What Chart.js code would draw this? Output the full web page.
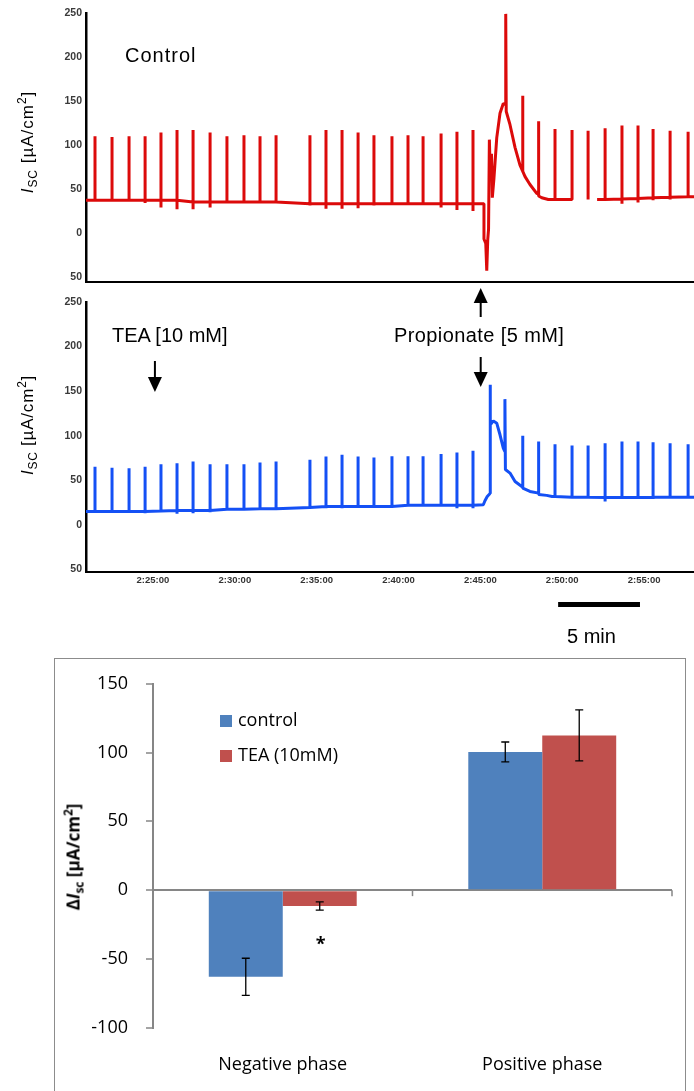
<!DOCTYPE html>
<html>
<head>
<meta charset="utf-8">
<title>Isc recordings and ΔIsc summary</title>
<script src="https://cdn.jsdelivr.net/npm/chart.js@4.4.1/dist/chart.umd.min.js"></script>
<style>
  html, body { margin:0; padding:0; background:#fff; }
  body { position:relative; width:694px; height:1091px; overflow:hidden;
         font-family:"Liberation Sans", Arial, sans-serif; color:#000; }
  canvas { position:absolute; left:0; }
  .txt { position:absolute; white-space:nowrap; line-height:20px; }
  .vtitle { position:absolute; white-space:nowrap; line-height:1;
            transform:translate(-50%,-50%) rotate(-90deg); }
  .vtitle sub, .vtitle sup { font-size:70%; line-height:0; }
  .frame { position:absolute; left:54px; top:658px; width:630px; height:460px;
           border:1px solid #8c8c8c; }
</style>
</head>
<body>
<div class="frame"></div>
<canvas id="controlTrace" width="694" height="292" style="top:0"></canvas>
<canvas id="teaTrace" width="694" height="362" style="top:288px"></canvas>
<canvas id="summary" width="694" height="436" style="top:655px"></canvas>

<div class="txt" style="left:125px;top:45px;font-size:20px;letter-spacing:1px">Control</div>
<div class="txt" style="left:112px;top:325px;font-size:20px">TEA [10 mM]</div>
<div class="txt" style="left:394px;top:325px;font-size:20px;letter-spacing:0.4px">Propionate [5 mM]</div>
<div class="txt" style="left:567px;top:626px;font-size:20px">5 min</div>
<div class="vtitle" style="left:27px;top:142px;font-size:17px;letter-spacing:1px"><i>I</i><sub>SC</sub> [µA/cm<sup>2</sup>]</div>
<div class="vtitle" style="left:27px;top:425px;font-size:17px;letter-spacing:0.8px"><i>I</i><sub>SC</sub> [µA/cm<sup>2</sup>]</div>
<div class="vtitle" style="left:73px;top:857px;font-size:17px;font-family:'Open Sans';font-weight:bold">Δ<i>I</i><sub>sc</sub> [µA/cm<sup>2</sup>]</div>

<script>
// ---------- time axis: minutes after 2:00:00 ----------
const timeMin = 20.91;
const timeMax = 58.05;
const timeTicks = [25, 30, 35, 40, 45, 50, 55];
const timeTickLabels = ['2:25:00', '2:30:00', '2:35:00', '2:40:00', '2:45:00', '2:50:00', '2:55:00'];

// ---------- current axis of the recordings (µA/cm²) ----------
const traceTicks = [-50, 0, 50, 100, 150, 200, 250];
const traceTickLabels = ['50', '0', '50', '100', '150', '200', '250'];

// ---------- additions ----------
const teaAddedAt = 25.12;
const propionateAddedAt = 45.02;
const scaleBarStart = 49.75;
const scaleBarMinutes = 5;

// ---------- voltage test pulses (minutes) ----------
const pulseTimesPre = [21.46, 22.50, 23.54, 24.52, 25.49, 26.47, 27.45, 28.49, 29.52, 30.56, 31.54, 32.52,
                       34.59, 35.57, 36.55, 37.53, 38.50, 39.60, 40.58, 41.50, 42.60, 43.57, 44.55];
const pulseTimesPost = [49.56, 50.60, 51.58, 52.62, 53.65, 54.63, 55.55, 56.59, 57.69];

// ---------- control recording ----------
const controlBasePre = [37, 37, 37, 37, 37, 37, 35, 35, 35, 35, 35, 35, 33, 33, 33, 33, 33, 33, 33, 33, 33, 33, 33];
const controlTopPre  = [110, 109, 110, 110, 114, 117, 117, 114, 110, 111, 110, 111, 111, 117, 117, 114, 111, 110, 111, 110, 113, 115, 117];
const controlDipPre  = [36, 36, 36, 34, 29, 27, 27, 29, 34, 35, 35, 35, 31, 27.5, 27.5, 28, 31, 32, 32, 32, 29, 26, 25];
const controlResponseTimes  = [45.22, 45.22, 45.33, 45.39, 45.45, 45.50, 45.55, 45.61, 45.68, 45.73,
                               45.83, 46.00, 46.20, 46.40, 46.53, 46.55, 46.58, 46.81, 47.12, 47.42,
                               47.59, 47.59, 47.59, 47.73, 48.03, 48.44, 48.56, 48.56, 48.56, 48.75, 49.15];
const controlResponseValues = [33, -7, -12, -43, -8, 4, 106, 64, 90, 40,
                               62, 108, 136, 147, 146, 249, 138, 123, 97, 77,
                               70, 156, 70, 64, 55, 45, 44, 127, 42, 40, 38];
const controlBasePost = [38, 38, 38, 38, 38.5, 39, 40, 40.5, 41];
const controlTopPost  = [118, 117, 116, 119, 122, 122, 118, 116, 115];
const controlDipPost  = [38, 38, 38, 37, 33, 34.5, 37, 38, 41];
const controlGapTimes = [51.1, 51.9];
const controlRestartTimes = [52.13];
const controlRestartValues = [38];

// ---------- TEA recording ----------
const teaBasePre = [15, 15, 15, 15, 15.5, 16, 16, 16, 17.5, 17.5, 18, 18, 19.5, 20.5, 20.5, 20.5, 20.5, 20.5, 22, 22, 22, 22, 22];
const teaTopPre  = [65, 64, 63.5, 65, 68, 69, 71, 68, 68, 68, 70, 71, 73, 76.5, 78.5, 76.5, 75.5, 77, 77, 77, 79.5, 81, 83];
const teaDipPre  = [14, 14, 13.5, 13, 14, 12.5, 13, 14, 16, 16, 17, 17, 18, 18.5, 18.5, 19, 19, 19, 20.5, 20.5, 20.5, 18.5, 18.5];
const teaResponseTimes  = [45.18, 45.28, 45.42, 45.59, 45.59, 45.62, 45.79, 46.00, 46.20, 46.40,
                           46.50, 46.50, 46.53, 46.81, 47.12, 47.53, 47.59, 47.59, 47.59, 48.03,
                           48.56, 48.56, 48.56, 49.05, 49.38];
const teaResponseValues = [22.4, 27, 31.7, 35, 157, 112, 116.6, 114, 101, 86,
                           82, 141, 62, 58, 48.5, 43, 42, 100, 41, 37.4,
                           35.5, 93.4, 34, 33, 31.7];
const teaBasePost = [31.7, 31, 31, 30.6, 30.6, 30.6, 31, 31, 31];
const teaTopPost  = [90.4, 89, 89, 91.6, 93.4, 93.4, 92.6, 91.6, 90.4];
const teaDipPost  = [30, 30, 30, 26, 29, 30, 29, 30, 31];

// ---------- summary: peak changes of Isc ----------
const phases = ['Negative phase', 'Positive phase'];
const controlMean = [-63, 100.5];
const controlErr  = [13.5, 7.2];
const teaMean = [-11.5, 112.5];
const teaErr  = [3, 18.5];
const teaMarks = ['*', ''];
const summaryTicks = [-100, -50, 0, 50, 100, 150];

// Turn pulse tables and response samples into one ordered trace
function buildTrace(r) {
  const pts = [{ x: timeMin, y: r.basePre[0] }];
  const addPulses = (times, base, top, dip) => times.forEach((t, i) => {
    pts.push({ x: t, y: base[i] }, { x: t, y: top[i] }, { x: t, y: dip[i] }, { x: t, y: base[i] });
  });
  addPulses(pulseTimesPre, r.basePre, r.topPre, r.dipPre);
  r.respT.forEach((t, i) => pts.push({ x: t, y: r.respV[i] }));
  addPulses(pulseTimesPost, r.basePost, r.topPost, r.dipPost);
  pts.push({ x: timeMax, y: r.basePost[r.basePost.length - 1] });
  (r.gaps || []).forEach(t => pts.push({ x: t, y: null }));
  (r.restartT || []).forEach((t, i) => pts.push({ x: t, y: r.restartV[i] }));
  return pts.map((p, i) => ({ p, i }))
            .sort((a, b) => a.p.x - b.p.x || a.i - b.i)
            .map(o => o.p);
}

const controlPoints = buildTrace({
  basePre: controlBasePre, topPre: controlTopPre, dipPre: controlDipPre,
  respT: controlResponseTimes, respV: controlResponseValues,
  basePost: controlBasePost, topPost: controlTopPost, dipPost: controlDipPost,
  gaps: controlGapTimes, restartT: controlRestartTimes, restartV: controlRestartValues
});
const teaPoints = buildTrace({
  basePre: teaBasePre, topPre: teaTopPre, dipPre: teaDipPre,
  respT: teaResponseTimes, respV: teaResponseValues,
  basePost: teaBasePost, topPost: teaTopPost, dipPost: teaDipPost
});

function traceConfig(points, color, o) {
  return {
    type: 'line',
    data: { datasets: [{
      data: points, borderColor: color, borderWidth: 3, pointRadius: 0,
      tension: 0, spanGaps: false, fill: false, borderJoinStyle: 'bevel', borderCapStyle: 'butt'
    }]},
    options: {
      responsive: false, animation: false, events: [], devicePixelRatio: 1,
      layout: { padding: { top: o.padTop, left: 0, right: 0, bottom: 0 } },
      plugins: { legend: { display: false }, tooltip: { enabled: false } },
      scales: {
        x: {
          type: 'linear', min: timeMin, max: timeMax,
          afterBuildTicks: s => { s.ticks = timeTicks.map(v => ({ value: v })); },
          afterFit: s => { s.height = o.xHeight; },
          grid: { display: false, drawTicks: false },
          border: { display: true, color: '#000', width: 2 },
          ticks: {
            display: o.showTime, padding: 3, color: '#333', maxRotation: 0, autoSkip: false,
            font: { family: 'Liberation Sans', size: 9.5, weight: 'bold' },
            callback: (v, i) => timeTickLabels[i]
          }
        },
        y: {
          min: o.yMin, max: 250,
          afterBuildTicks: s => { s.ticks = traceTicks.map(v => ({ value: v })); },
          afterFit: s => { s.width = 86; },
          grid: { display: false, drawTicks: false },
          border: { display: true, color: '#000', width: 2.5 },
          ticks: {
            padding: 4, color: '#3a3a3a',
            font: { family: 'Liberation Sans', size: 10.5, weight: 'bold' },
            callback: (v, i) => traceTickLabels[i]
          }
        }
      }
    },
    plugins: o.plugins || []
  };
}

function arrow(ctx, x, from, to) {
  const dir = Math.sign(to - from);
  const headBase = to - dir * 15;
  ctx.beginPath();
  ctx.moveTo(x, from);
  ctx.lineTo(x, headBase);
  ctx.stroke();
  ctx.beginPath();
  ctx.moveTo(x - 7, headBase);
  ctx.lineTo(x + 7, headBase);
  ctx.lineTo(x, to);
  ctx.closePath();
  ctx.fill();
}

// Addition arrows and the 5-min scale bar
const additionMarkers = {
  id: 'additionMarkers',
  afterDraw(chart) {
    const { ctx, scales: { x } } = chart;
    const top = chart.chartArea.top;
    const xt = x.getPixelForValue(teaAddedAt);
    const xp = x.getPixelForValue(propionateAddedAt);
    ctx.save();
    ctx.strokeStyle = '#000';
    ctx.fillStyle = '#000';
    ctx.lineWidth = 2;
    arrow(ctx, xt, top + 59, top + 90);
    arrow(ctx, xp, top + 55, top + 85);
    arrow(ctx, xp, top + 15, top - 14);
    const b0 = x.getPixelForValue(scaleBarStart);
    const b1 = x.getPixelForValue(scaleBarStart + scaleBarMinutes);
    ctx.fillRect(b0, chart.chartArea.bottom + 30, b1 - b0, 5);
    ctx.restore();
  }
};

new Chart(document.getElementById('controlTrace'),
  traceConfig(controlPoints, '#dc0a0a', { padTop: 13, xHeight: 5, yMin: -55.5, showTime: false }));
new Chart(document.getElementById('teaTrace'),
  traceConfig(teaPoints, '#1450f5', { padTop: 14, xHeight: 78, yMin: -53, showTime: true, plugins: [additionMarkers] }));

// ---------- summary bar chart ----------
const errorBars = {
  id: 'errorBars',
  afterDatasetsDraw(chart) {
    const { ctx, scales: { y } } = chart;
    ctx.save();
    ctx.strokeStyle = '#000';
    ctx.fillStyle = '#000';
    ctx.lineWidth = 1.3;
    chart.data.datasets.forEach((ds, di) => {
      chart.getDatasetMeta(di).data.forEach((bar, i) => {
        const v = ds.data[i], e = ds.errors[i];
        const yHi = y.getPixelForValue(v + e), yLo = y.getPixelForValue(v - e);
        const x = bar.x;
        ctx.beginPath();
        ctx.moveTo(x, yHi); ctx.lineTo(x, yLo);
        ctx.moveTo(x - 4, yHi); ctx.lineTo(x + 4, yHi);
        ctx.moveTo(x - 4, yLo); ctx.lineTo(x + 4, yLo);
        ctx.stroke();
        if (ds.marks && ds.marks[i]) {
          ctx.font = 'bold 18px "Open Sans"';
          ctx.textAlign = 'center';
          ctx.textBaseline = 'alphabetic';
          ctx.fillText(ds.marks[i], x + 1, yLo + 40);
        }
      });
    });
    ctx.restore();
  }
};

const insideLegend = {
  id: 'insideLegend',
  afterDraw(chart) {
    const ctx = chart.ctx;
    ctx.save();
    ctx.font = '18px "Open Sans"';
    ctx.textBaseline = 'middle';
    ctx.textAlign = 'left';
    chart.data.datasets.forEach((ds, i) => {
      const top = 60 + i * 35;
      ctx.fillStyle = ds.backgroundColor;
      ctx.fillRect(220, top, 12, 12);
      ctx.fillStyle = '#000';
      ctx.fillText(ds.label, 238, top + 6);
    });
    ctx.restore();
  }
};

const categoryTicks = {
  id: 'categoryTicks',
  afterDraw(chart) {
    const { ctx, scales: { x, y } } = chart;
    const y0 = y.getPixelForValue(0);
    ctx.save();
    ctx.strokeStyle = '#868686';
    ctx.lineWidth = 1.5;
    chart.data.labels.forEach((_, i) => {
      const bx = x.getPixelForValue(i + 0.5);
      ctx.beginPath();
      ctx.moveTo(bx, y0);
      ctx.lineTo(bx, y0 + 6);
      ctx.stroke();
    });
    ctx.restore();
  }
};

new Chart(document.getElementById('summary'), {
  type: 'bar',
  data: {
    labels: phases,
    datasets: [
      { label: 'control', data: controlMean, errors: controlErr, backgroundColor: '#4F81BD' },
      { label: 'TEA (10mM)', data: teaMean, errors: teaErr, marks: teaMarks, backgroundColor: '#C0504D' }
    ]
  },
  options: {
    responsive: false, animation: false, events: [], devicePixelRatio: 1,
    layout: { padding: { top: 25, right: 22, left: 0, bottom: 0 } },
    datasets: { bar: { categoryPercentage: 0.57, barPercentage: 1 } },
    plugins: { legend: { display: false }, tooltip: { enabled: false } },
    scales: {
      x: {
        grid: { display: false, drawTicks: false },
        border: { display: false },
        afterFit: s => { s.height = 63.3; },
        ticks: { padding: 26, color: '#000', font: { family: 'Open Sans', size: 18 } }
      },
      y: {
        min: -100, max: 150,
        afterBuildTicks: s => { s.ticks = summaryTicks.map(v => ({ value: v })); },
        afterFit: s => { s.width = 153; },
        grid: {
          color: c => (c.tick && c.tick.value === 0) ? '#868686' : 'rgba(0,0,0,0)',
          tickColor: '#868686', lineWidth: 2, tickWidth: 1.5, tickLength: 7, drawTicks: true
        },
        border: { display: true, color: '#868686', width: 2 },
        ticks: { padding: 18, color: '#000', font: { family: 'Open Sans', size: 18 } }
      }
    }
  },
  plugins: [errorBars, insideLegend, categoryTicks]
});
</script>
</body>
</html>
